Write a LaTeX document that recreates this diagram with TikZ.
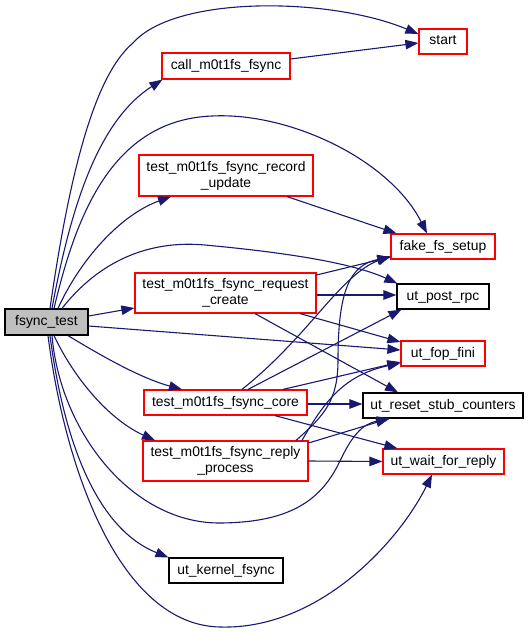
\documentclass[tikz,border=0pt]{standalone}
\usepackage{fontspec}
\newfontfamily\lsans{Liberation Sans}
\usetikzlibrary{arrows.meta}
\definecolor{edgeblue}{HTML}{191970}
\definecolor{nodegray}{HTML}{BFBFBF}
\begin{document}
\begin{tikzpicture}[x=1pt,y=-1pt,
  box/.style={draw=red, line width=1.2pt, inner sep=0pt, align=center,
    font=\lsans\fontsize{13.9pt}{16pt}\selectfont},
  onebox/.style={box, text height=10pt, text depth=3pt},
  blk/.style={onebox, draw=black},
  e/.style={draw=edgeblue, line width=1.1pt, -{Triangle[length=13pt,width=9.5pt]}}]
\useasboundingbox[fill=white] (0,0) rectangle (528,631);

% nodes
\node[blk, fill=nodegray, minimum width=83pt, minimum height=26pt] (fsync) at (46.5,322) {fsync\_test};
\node[onebox, minimum width=128pt, minimum height=26pt] (call) at (226,66) {call\_m0t1fs\_fsync};
\node[onebox, minimum width=48pt, minimum height=25pt] (start) at (443,41.5) {start};
\node[box, minimum width=174pt, minimum height=41pt] (record) at (226,175.5) {test\_m0t1fs\_fsync\_record\\\_update};
\node[onebox, minimum width=104pt, minimum height=25pt] (fake) at (443,246.5) {fake\_fs\_setup};
\node[blk, minimum width=92pt, minimum height=25pt] (post) at (443,296.5) {ut\_post\_rpc};
\node[box, minimum width=181pt, minimum height=40pt] (request) at (225.5,293) {test\_m0t1fs\_fsync\_request\\\_create};
\node[onebox, minimum width=84pt, minimum height=25pt] (fini) at (443,353.5) {ut\_fop\_fini};
\node[onebox, minimum width=163pt, minimum height=25pt] (core) at (225.5,402.5) {test\_m0t1fs\_fsync\_core};
\node[blk, minimum width=160pt, minimum height=25pt] (reset) at (443,405.5) {ut\_reset\_stub\_counters};
\node[box, minimum width=165pt, minimum height=40pt] (reply) at (225.5,461) {test\_m0t1fs\_fsync\_reply\\\_process};
\node[onebox, minimum width=121pt, minimum height=25pt] (wait) at (443.5,461.5) {ut\_wait\_for\_reply};
\node[blk, minimum width=114pt, minimum height=25pt] (kernel) at (226,570.5) {ut\_kernel\_fsync};

% edges from fsync_test
\draw[e] ([xshift=3.5pt]fsync.north) .. controls (70,170) and (95,75) .. (133,43)
  .. controls (175,-5) and (330,-3) .. ([yshift=7.5pt]start.west);
\draw[e] ([xshift=5.5pt]fsync.north) .. controls (72,200) and (100,120) .. ([xshift=1pt]call.south west);
\draw[e] ([xshift=7.5pt]fsync.north) .. controls (75,220) and (110,120) .. (212,116)
  .. controls (290,112) and (390,160) .. ([xshift=-16pt]fake.north);
\draw[e] ([xshift=11.5pt]fsync.north) .. controls (80,260) and (120,215) .. ([xshift=-55pt]record.south);
\draw[e] ([xshift=15.5pt]fsync.north) .. controls (100,260) and (150,240) .. (205,245)
  .. controls (280,252) and (350,262) .. ([xshift=1pt]post.north west);
\draw[e] ([yshift=6pt]fsync.east) -- ([yshift=-15pt]request.west);
\draw[e] ([yshift=-4pt]fsync.east) -- ([yshift=3.5pt]fini.west);
\draw[e] ([xshift=21.5pt]fsync.south) .. controls (100,355) and (140,378) .. ([xshift=-43.5pt]core.north);
\draw[e] ([xshift=7.5pt]fsync.south) .. controls (75,380) and (110,420) .. ([xshift=-70.5pt]reply.north);
\draw[e] ([xshift=5.5pt]fsync.south) .. controls (60,430) and (130,522) .. (218,523)
  .. controls (290,523) and (320,500) .. (338,465)
  .. controls (352,435) and (362,424) .. ([xshift=-53pt]reset.south);
\draw[e] ([xshift=3.5pt]fsync.south) .. controls (65,450) and (100,530) .. (kernel.north west);
\draw[e] ([xshift=1.5pt]fsync.south) .. controls (65,470) and (120,625) .. (220,627)
  .. controls (320,630) and (400,540) .. ([xshift=-11.5pt]wait.south);

% other edges
\draw[e] ([yshift=7pt]call.east) -- ([yshift=-1.5pt]start.west);
\draw[e] ([xshift=61pt]record.south) -- ([xshift=6pt]fake.north west);
\draw[e] ([yshift=18pt]request.east) -- ([yshift=-10.5pt]fake.west);
\draw[e] ([yshift=-2pt]request.east) -- ([yshift=1.5pt]post.west);
\draw[e] ([xshift=74.5pt]request.south) -- ([yshift=11.5pt]fini.west);
\draw[e] ([xshift=29.5pt]request.south) -- ([xshift=-45pt]reset.north);
\draw[e] ([xshift=16.5pt]core.north) .. controls (310,335) and (340,275) .. ([yshift=-9.5pt]fake.west);
\draw[e] ([xshift=22.5pt]core.north) -- ([xshift=5pt]post.south west);
\draw[e] ([xshift=57.5pt]core.north) -- ([yshift=-8.5pt]fini.west);
\draw[e] ([yshift=-1.5pt]core.east) -- ([yshift=1.5pt]reset.west);
\draw[e] ([xshift=49.5pt]core.south) -- ([xshift=15pt]wait.north west);
\draw[e] ([xshift=70.5pt]reply.north) .. controls (325,415) and (338,400) .. (338,360)
  .. controls (338,290) and (350,265) .. ([yshift=-10.5pt]fake.west);
\draw[e] ([xshift=76.5pt]reply.north) .. controls (325,400) and (345,375) .. ([yshift=-9.5pt]fini.west);
\draw[e] ([yshift=18pt]reply.east) -- ([xshift=-54pt]reset.south);
\draw[e] (reply.east) -- (wait.west);
\end{tikzpicture}
\end{document}
